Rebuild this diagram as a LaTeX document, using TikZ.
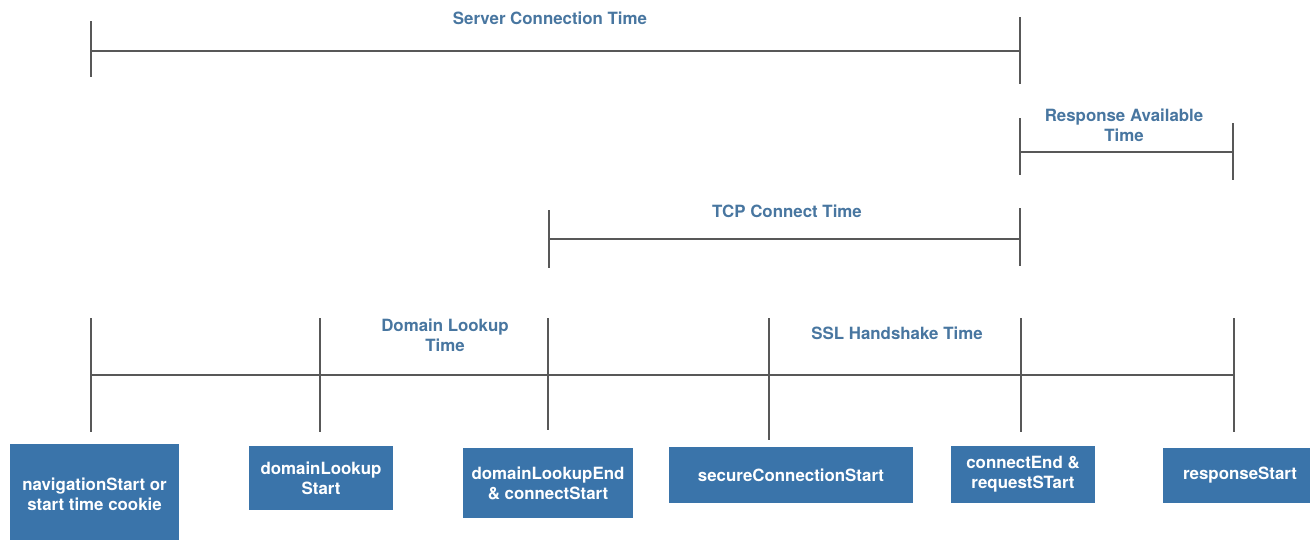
\documentclass[tikz,border=0pt]{standalone}
\usepackage{fontspec}
\setmainfont{TeX Gyre Heros}
\usetikzlibrary{positioning}
\usepackage{xcolor}
\definecolor{eventblue}{RGB}{58,116,170}
\definecolor{spanblue}{RGB}{72,118,160}
\definecolor{rulegray}{RGB}{88,88,88}

\begin{document}
\begin{tikzpicture}[x=0.02cm, y=-0.02cm,
  font=\bfseries\fontsize{9.6}{11.4}\selectfont,
  rule/.style={draw=rulegray, line width=1.1pt},
  event/.style={fill=eventblue, text=white, align=center, inner sep=0pt},
  spanlabel/.style={text=spanblue, align=center, inner sep=0pt}]
  \useasboundingbox (0,0) rectangle (1310,539);

  % main timeline
  \foreach \name/\x/\b in {nav/91/432, dls/320/432, dle/548/430, scs/769/440, ce/1021/432, rs/1234/432} {
    \coordinate (\name-top) at (\x,318);
    \coordinate (\name-on) at (\x,375);
    \coordinate (\name-bot) at (\x,\b);
    \draw[rule] (\name-top) -- (\name-bot);
  }
  \draw[rule] (nav-on) -- (rs-on);

  % spans above: name/x/top/bottom
  \foreach \name/\x/\t/\b in {srvl/91/21/77, srvr/1020/17/84, ratl/1020/118/175, ratr/1233/123/180, tcpl/549/210/268, tcpr/1020/208/266} {
    \coordinate (\name-top) at (\x,\t);
    \coordinate (\name-bot) at (\x,\b);
    \draw[rule] (\name-top) -- (\name-bot);
  }
  \coordinate (srv-l) at (91,51);
  \coordinate (srv-r) at (1020,51);
  \draw[rule] (srv-l) -- (srv-r);
  \node[spanlabel] (srv) at (550,18) {Server Connection Time};

  \coordinate (rat-l) at (1020,152);
  \coordinate (rat-r) at (1233,152);
  \draw[rule] (rat-l) -- (rat-r);
  \node[spanlabel] (rat) at (1124,125) {Response Available\\Time};

  \coordinate (tcp-l) at (549,239);
  \coordinate (tcp-r) at (1020,239);
  \draw[rule] (tcp-l) -- (tcp-r);
  \node[spanlabel] (tcp) at (787,211) {TCP Connect Time};

  \node[spanlabel] (dlt) at (445,335) {Domain Lookup\\Time};
  \node[spanlabel] (ssl) at (897,333) {SSL Handshake Time};

  % events
  \node[event, minimum width=3.38cm, minimum height=2.02cm] (navstart) at (94.5,494.5) {navigationStart or\\start time cookie};
  \node[event, minimum width=2.88cm, minimum height=1.28cm] (dlstart) at (321,478) {domainLookup\\Start};
  \node[event, minimum width=3.40cm, minimum height=1.40cm] (dlend) at (548,483) {domainLookupEnd\\\& connectStart};
  \node[event, minimum width=4.88cm, minimum height=1.12cm] (secstart) at (791,475) {secureConnectionStart};
  \node[event, minimum width=2.88cm, minimum height=1.14cm] (connend) at (1023,474.5) {connectEnd \&\\requestSTart};
  \node[event, minimum width=3.08cm, minimum height=1.10cm] (respstart) at (1240,475.5) {responseStart};
\end{tikzpicture}
\end{document}
